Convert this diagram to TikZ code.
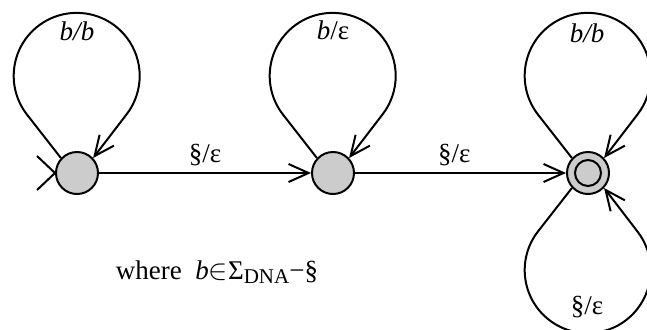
\documentclass[tikz,border=0pt]{standalone}
\usepackage{fontspec}
\setmainfont{Liberation Serif}
\usetikzlibrary{arrows.meta}

\begin{document}
\begin{tikzpicture}[x=0.5pt,y=0.5pt,font=\fontsize{13.5}{16}\selectfont,
  state/.style={circle,draw,line width=1pt,fill=black!20,minimum size=21pt,inner sep=0pt},
  accept/.style={state,path picture={\draw[line width=1pt] (path picture bounding box.center) circle (6.5pt);}},
  edge/.style={line width=1pt,-{Straight Barb[length=10pt,width=9pt]}}]
\useasboundingbox (0,0) rectangle (647,329);
% states
\node[state] (q0) at (77,156) {};
\node[state] (q1) at (333,156) {};
\node[accept] (q2) at (588,156) {};
% start marker
\draw[line width=1pt] (q0.west) ++(-18,17) -- (q0.west) -- ++(-18,-17);
% transitions
\draw[edge] (q0) -- node[above,inner sep=3pt] {§/ε} (q1);
\draw[edge] (q1) -- node[above,inner sep=3pt,pos=0.47] {§/ε} (q2);
% loops
\draw[edge] (q0.137) -- ++(128:55) arc[start angle=218,end angle=-38,radius=63] -- (q0.43);
\draw[edge] (q1.137) -- ++(128:55) arc[start angle=218,end angle=-38,radius=63] -- (q1.43);
\draw[edge] (q2.137) -- ++(128:55) arc[start angle=218,end angle=-38,radius=63] -- (q2.43);
\draw[edge] (q2.223) -- ++(232:55) arc[start angle=142,end angle=398,radius=63] -- (q2.317);
\node (l0) at (77,298) {\textit{b/b}};
\node (l1) at (333,299) {\textit{b}/ε};
\node (l2) at (587,296) {\textit{b/b}};
\node (l3) at (587,22) {§/ε};
% note
\node (note) at (217,57) {where\enspace\textit{b}$\in$Σ\raisebox{-0.3ex}{\fontsize{10.5}{12}\selectfont DNA}−§};
\end{tikzpicture}
\end{document}
